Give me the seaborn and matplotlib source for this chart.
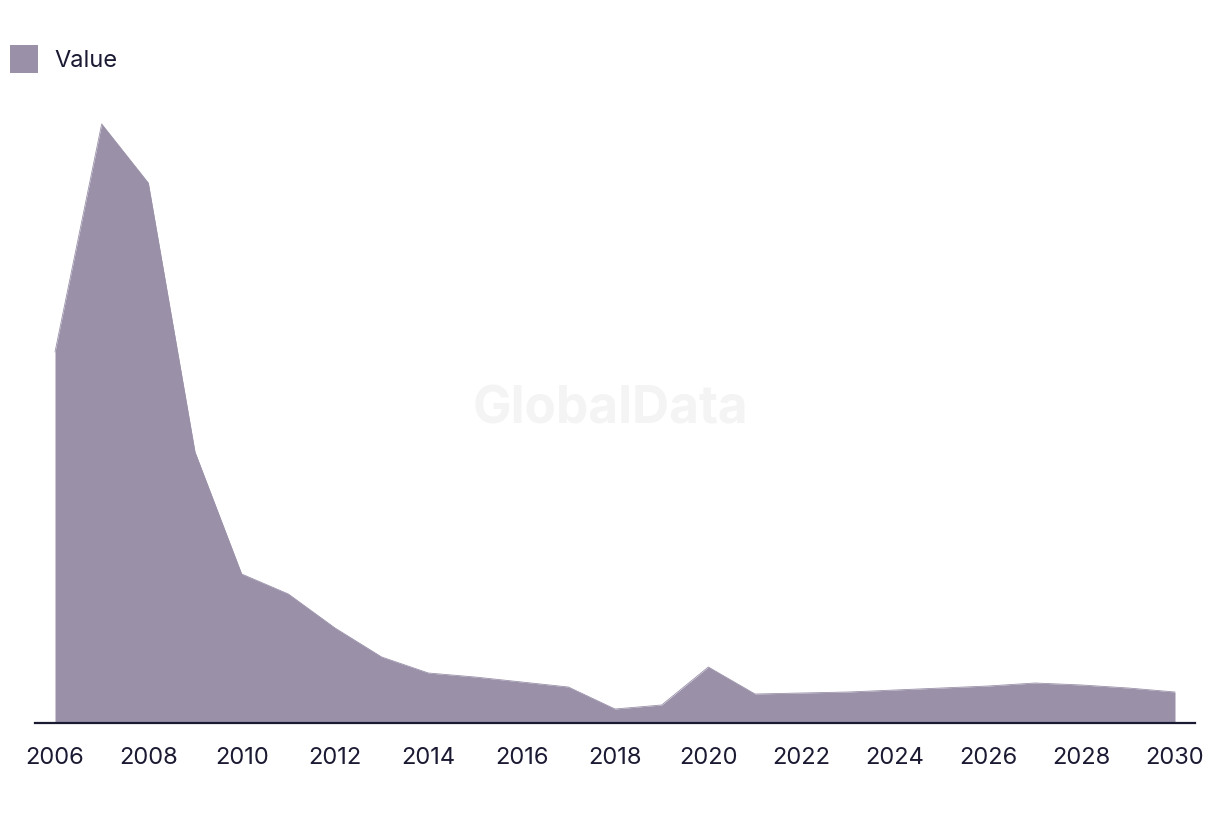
import matplotlib
matplotlib.use("Agg")
import matplotlib.pyplot as plt
import seaborn as sns
import pandas as pd
from matplotlib.patches import Patch

years = list(range(2006, 2031))
values = [371, 599, 540, 271, 149, 129, 95, 66, 50, 46, 41, 36, 14, 18, 56,
          29, 30, 31, 33, 35, 37, 40, 38, 35, 31]
tick_years = list(range(2006, 2031, 2))
series_name = "Value"

fill_color = "#9a91a9"
text_color = "#1b1a33"

sns.set_theme(style="white")
plt.rcParams["font.family"] = ["Inter", "DejaVu Sans"]

df = pd.DataFrame({"year": years, "value": values})

fig = plt.figure(figsize=(12.2, 8.14), dpi=100)
ax = fig.add_axes([35 / 1220, 1 - 723 / 814, 1160 / 1220, 640 / 814])

sns.lineplot(data=df, x="year", y="value", ax=ax, color=fill_color, linewidth=0.6)
ax.fill_between(df["year"], df["value"], 0, color=fill_color, linewidth=0)

ax.set_xlim(2006 - 20 / (1120 / 24), 2030 + 20 / (1120 / 24))
ax.set_ylim(0, 640)
ax.set_xticks(tick_years)
ax.set_xticklabels([str(y) for y in tick_years], fontsize=17, color=text_color)
ax.set_yticks([])
ax.set_xlabel("")
ax.set_ylabel("")
ax.tick_params(axis="x", length=0, pad=17)
for s in ["top", "right", "left"]:
    ax.spines[s].set_visible(False)
ax.spines["bottom"].set_color(text_color)
ax.spines["bottom"].set_linewidth(1.6)

fig.text(610 / 1220, 1 - 410 / 814, "GlobalData", fontsize=37, fontweight="bold",
         color="#f4f4f4", ha="center", va="center", zorder=0)

handle = Patch(facecolor=fill_color, edgecolor="none")
fig.legend([handle], [series_name], loc="center left",
           bbox_to_anchor=(10 / 1220, 1 - 59 / 814), frameon=False,
           fontsize=17, handlelength=1.2, handleheight=1.4,
           handletextpad=0.7, borderaxespad=0, borderpad=0,
           labelcolor=text_color)

fig.savefig("out.png", dpi=100, facecolor="white")
